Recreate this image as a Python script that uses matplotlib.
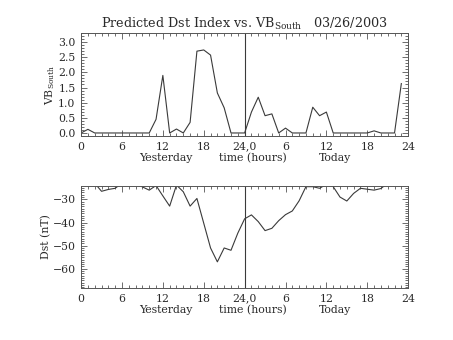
import numpy as np
import matplotlib
matplotlib.use('Agg')
import matplotlib.pyplot as plt
from matplotlib.ticker import MultipleLocator, FixedLocator

plt.rcParams['font.family'] = ['DejaVu Serif']
plt.rcParams['mathtext.fontset'] = 'dejavuserif'

# hours since start of yesterday (0..47)
hours = list(range(48))

# VB south
vb_south = [0.0, 0.12, 0.0, 0.0, 0.0, 0.0, 0.0, 0.0, 0.0, 0.0,
            0.0, 0.45, 1.90, 0.0, 0.13, 0.0, 0.35, 2.70, 2.74, 2.57,
            1.32, 0.83, 0.0, 0.0, 0.0, 0.69, 1.18, 0.57, 0.63, 0.0,
            0.16, 0.0, 0.0, 0.0, 0.85, 0.57, 0.69, 0.0, 0.0, 0.0,
            0.0, 0.0, 0.0, 0.07, 0.0, 0.0, 0.0, 1.63]

# predicted Dst (nT), values above the frame are clipped in the original
dst = [-23.0, -23.0, -23.0, -26.5, -25.7, -25.2, -23.0, -23.0, -23.0, -24.6,
       -26.0, -24.0, -28.5, -32.9, -23.8, -26.7, -32.9, -29.6, -40.3, -51.0,
       -57.0, -51.0, -52.0, -44.6, -38.4, -36.7, -39.6, -43.5, -42.5, -39.2,
       -36.6, -35.0, -30.6, -24.5, -24.5, -25.2, -23.5, -24.5, -29.0, -30.7,
       -27.4, -25.2, -25.6, -26.0, -25.3, -23.0, -23.0, -23.0]

tick_pos = [0, 6, 12, 18, 24, 30, 36, 42, 48]
tick_labels = ['0', '6', '12', '18', '24,0', '6', '12', '18', '24']

line_col = '#3a3a3a'
txt_col = '#2a2a2a'
fs = 7.8

fig = plt.figure(figsize=(4.53, 3.40), dpi=100)
ax1 = fig.add_axes([0.179, 0.600, 0.722, 0.303])
ax2 = fig.add_axes([0.179, 0.153, 0.722, 0.300])


def style_axis(ax):
    ax.set_xlim(0, 48)
    ax.xaxis.set_major_locator(FixedLocator(tick_pos))
    ax.xaxis.set_minor_locator(MultipleLocator(1))
    ax.set_xticklabels(tick_labels, fontsize=fs)
    ax.tick_params(which='both', direction='in', top=True, right=True,
                   color='#555555', width=0.6, labelsize=fs, pad=4,
                   labelcolor=txt_col)
    ax.tick_params(which='major', length=4)
    ax.tick_params(which='minor', length=2)
    for s in ax.spines.values():
        s.set_color('#555555')
        s.set_linewidth(0.7)
    ax.axvline(24, color=line_col, lw=0.8)
    trans = ax.get_xaxis_transform()
    for xc, lab in [(12.4, 'Yesterday'), (25.2, 'time (hours)'), (37.2, 'Today')]:
        ax.text(xc, -0.245, lab, transform=trans, ha='center', va='baseline',
                fontsize=fs, color=txt_col)


ax1.plot(hours, vb_south, color=line_col, lw=0.8)
style_axis(ax1)
ax1.set_ylim(-0.1, 3.3)
ax1.yaxis.set_major_locator(MultipleLocator(0.5))
ax1.yaxis.set_minor_locator(MultipleLocator(0.1))
ax1.yaxis.set_major_formatter(matplotlib.ticker.FormatStrFormatter('%.1f'))
ax1.set_ylabel(r'VB$_{\rm South}$', fontsize=fs, labelpad=1, color=txt_col)
ax1.set_title(r'Predicted Dst Index vs. VB$_{\rm South}$   03/26/2003',
              fontsize=9.2, pad=4, color=txt_col)

ax2.plot(hours, dst, color=line_col, lw=0.8)
style_axis(ax2)
ax2.set_ylim(-68.3, -24.2)
ax2.yaxis.set_major_locator(MultipleLocator(10))
ax2.yaxis.set_minor_locator(MultipleLocator(1))
ax2.set_ylabel('Dst (nT)', fontsize=fs, labelpad=1, color=txt_col)

fig.savefig('out.png', dpi=100)
